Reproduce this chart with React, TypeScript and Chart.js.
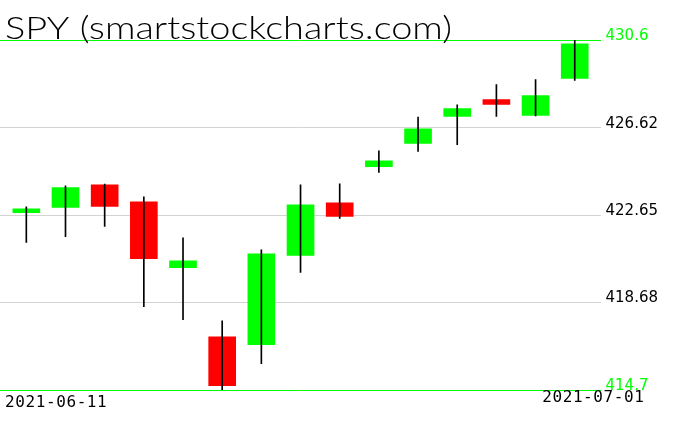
import React, { useEffect, useRef } from "react";
import { Chart, registerables } from "chart.js";

Chart.register(...registerables);

const dates = [
  "2021-06-11", "2021-06-14", "2021-06-15", "2021-06-16", "2021-06-17",
  "2021-06-18", "2021-06-21", "2021-06-22", "2021-06-23", "2021-06-24",
  "2021-06-25", "2021-06-28", "2021-06-29", "2021-06-30", "2021-07-01",
];
const opens = [422.76, 422.99, 424.02, 423.25, 420.26, 417.11, 416.76, 420.81, 423.2, 424.84, 425.9, 427.13, 427.89, 427.17, 428.85];
const highs = [423.02, 423.98, 424.05, 423.48, 421.61, 417.84, 421.07, 424.02, 424.07, 425.57, 427.1, 427.66, 428.57, 428.8, 430.6];
const lows = [421.4, 421.67, 422.13, 418.49, 417.9, 414.7, 415.9, 420.04, 422.49, 424.58, 425.54, 425.84, 427.13, 427.15, 428.76];
const closes = [422.93, 423.89, 423.04, 420.67, 420.57, 414.9, 420.89, 423.11, 422.58, 425.11, 426.57, 427.48, 427.67, 428.07, 430.43];
const yTicks = [414.7, 418.68, 422.65, 426.62, 430.6];
const title = "SPY (smartstockcharts.com)";

const GREEN = "#00ff00";
const RED = "#ff0000";

const textPlugin = {
  id: "textPlugin",
  afterDraw(chart: any) {
    const ctx = chart.ctx;
    const area = chart.chartArea;
    ctx.save();
    ctx.fillStyle = "#000";
    ctx.textAlign = "left";
    ctx.textBaseline = "alphabetic";
    ctx.font = '300 32px Lato';
    const w = ctx.measureText(title).width;
    ctx.save();
    ctx.translate(area.left + 5, area.top - 1);
    ctx.scale(447 / w, 1);
    ctx.fillText(title, 0, 0);
    ctx.restore();
    ctx.font = '16px "DejaVu Sans Mono"';
    try { (ctx as any).letterSpacing = "0.6px"; } catch (e) {}
    ctx.fillText(dates[0], area.left + 5, area.bottom + 17);
    ctx.textAlign = "right";
    ctx.fillText(dates[dates.length - 1], area.right + 44, area.bottom + 12);
    ctx.restore();
  },
};

export default function App() {
  const ref = useRef<HTMLCanvasElement | null>(null);
  useEffect(() => {
    document.body.style.margin = "0";
    const up = closes.map((c, i) => c >= opens[i]);
    const chart = new Chart(ref.current as HTMLCanvasElement, {
      type: "bar",
      data: {
        datasets: [
          {
            label: "wick",
            data: dates.map((_, i) => ({ x: i, y: [lows[i], highs[i]] })) as any,
            backgroundColor: "#000",
            barThickness: 1,
            grouped: false,
            order: 0,
          } as any,
          {
            label: "body",
            data: dates.map((_, i) => ({ x: i, y: [opens[i], closes[i]] })) as any,
            backgroundColor: up.map((u) => (u ? GREEN : RED)),
            barThickness: 27,
            grouped: false,
            order: 1,
          } as any,
        ],
      },
      options: {
        animation: false,
        responsive: true,
        maintainAspectRatio: false,
        layout: { padding: { top: 40, bottom: 41, left: 0, right: 13 } },
        plugins: { legend: { display: false }, tooltip: { enabled: false }, title: { display: false } },
        scales: {
          x: {
            type: "linear",
            min: -0.672,
            max: 14.658,
            offset: false,
            grid: { offset: false },
            display: false,
          } as any,
          y: {
            position: "right",
            min: 414.7,
            max: 430.6,
            afterBuildTicks: (scale: any) => {
              scale.ticks = yTicks.map((v) => ({ value: v }));
            },
            border: { display: false },
            grid: {
              drawTicks: false,
              lineWidth: 1,
              color: (c: any) => (c.index === 0 || c.index === yTicks.length - 1 ? GREEN : "#d3d3d3"),
            },
            ticks: {
              padding: 5,
              labelOffset: -4,
              font: { family: '"DejaVu Sans"', size: 15 },
              color: (c: any) => (c.index === 0 || c.index === yTicks.length - 1 ? GREEN : "#000"),
              callback: (v: any) => String(v),
            },
          },
        },
      },
      plugins: [textPlugin],
    });
    return () => chart.destroy();
  }, []);
  return (
    <div style={{ width: 676, height: 431, position: "relative" }}>
      <canvas ref={ref} />
    </div>
  );
}
